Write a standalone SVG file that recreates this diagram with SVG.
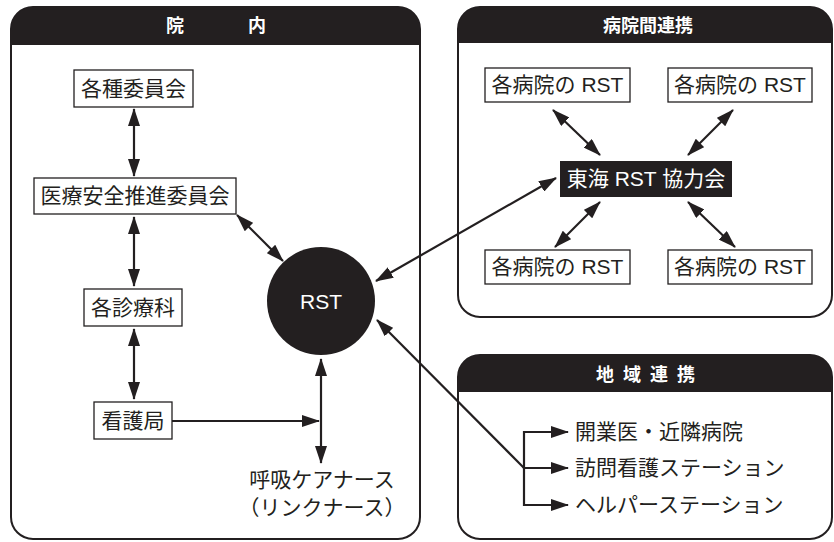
<svg xmlns="http://www.w3.org/2000/svg" width="834" height="542" viewBox="0 0 834 542">
<defs>
<marker id="ah" viewBox="0 0 18 12" markerWidth="18" markerHeight="12" refX="17" refY="6" orient="auto-start-reverse" markerUnits="userSpaceOnUse">
<path d="M0,0 L18,6 L0,12 z" fill="#231f20"/>
</marker>
<style>
.panel{fill:#fff;stroke:#231f20;stroke-width:2}
.hdr{fill:#231f20}
.htxt{fill:#fff;font-family:"Noto Sans CJK JP",sans-serif;font-weight:bold;font-size:18px;text-anchor:middle}
.box{fill:#fff;stroke:#231f20;stroke-width:1.3}
.t{fill:#231f20;font-family:"Liberation Sans","Noto Sans CJK JP",sans-serif;font-size:21px;text-anchor:middle}
.tl{fill:#231f20;font-family:"Noto Sans CJK JP",sans-serif;font-size:21px}
.w{fill:#fff}
.c line,.c path{stroke:#231f20;stroke-width:2.2;fill:none}
.bi{marker-start:url(#ah);marker-end:url(#ah)}
.one{marker-end:url(#ah)}
</style>
</defs>

<g id="panel-innai">
<rect class="panel" x="11" y="7" width="409" height="532" rx="22"/>
<path class="hdr" d="M11,45 V29 A22,22 0 0 1 33,7 H398 A22,22 0 0 1 420,29 V45 Z"/>
<text class="htxt" x="175" y="32">院</text>
<text class="htxt" x="257" y="32">内</text>
</g>

<g id="panel-byoin">
<rect class="panel" x="458" y="7" width="374" height="310" rx="22"/>
<path class="hdr" d="M458,43 V29 A22,22 0 0 1 480,7 H810 A22,22 0 0 1 832,29 V43 Z"/>
<text class="htxt" x="648" y="32" font-size="19">病院間連携</text>
</g>

<g id="panel-chiiki">
<rect class="panel" x="458" y="355" width="374" height="184" rx="22"/>
<path class="hdr" d="M458,392 V377 A22,22 0 0 1 480,355 H810 A22,22 0 0 1 832,377 V392 Z"/>
<text class="htxt" x="650" y="381" font-size="19" letter-spacing="9">地域連携</text>
</g>

<g id="n-kakushu">
<rect class="box" x="74" y="70" width="119" height="37"/>
<text class="t" x="133.5" y="96">各種委員会</text>
</g>
<g id="n-iryo">
<rect class="box" x="34" y="178" width="202" height="36"/>
<text class="t" x="135" y="203">医療安全推進委員会</text>
</g>
<g id="n-shinryo">
<rect class="box" x="84" y="289" width="98" height="37"/>
<text class="t" x="133" y="315">各診療科</text>
</g>
<g id="n-kango">
<rect class="box" x="94" y="402" width="78" height="37"/>
<text class="t" x="133" y="428">看護局</text>
</g>
<g id="n-rst">
<circle cx="321" cy="301" r="54" fill="#231f20"/>
<text class="t w" x="321" y="309" font-size="20">RST</text>
</g>
<g id="n-kokyu">
<text class="t" x="322" y="487">呼吸ケアナース</text>
<text class="t" x="322" y="515">（リンクナース）</text>
</g>

<g id="n-tokai">
<rect x="560" y="161" width="172" height="36" fill="#231f20"/>
<text class="t w" x="646" y="186">東海 RST 協力会</text>
</g>
<g id="n-h1">
<rect class="box" x="485" y="68" width="145" height="34"/>
<text class="t" x="557.5" y="92">各病院の RST</text>
</g>
<g id="n-h2">
<rect class="box" x="668" y="68" width="144" height="34"/>
<text class="t" x="740" y="92">各病院の RST</text>
</g>
<g id="n-h3">
<rect class="box" x="485" y="250" width="145" height="34"/>
<text class="t" x="557.5" y="274">各病院の RST</text>
</g>
<g id="n-h4">
<rect class="box" x="668" y="250" width="144" height="34"/>
<text class="t" x="740" y="274">各病院の RST</text>
</g>

<g id="n-chiiki-items">
<text class="tl" x="575" y="439">開業医・近隣病院</text>
<text class="tl" x="575" y="475">訪問看護ステーション</text>
<text class="tl" x="575" y="512">ヘルパーステーション</text>
</g>

<g id="connectors" class="c">
<line class="bi" x1="134" y1="109" x2="134" y2="176"/>
<line class="bi" x1="134" y1="217" x2="134" y2="286"/>
<line class="bi" x1="134" y1="329" x2="134" y2="399"/>
<line class="one" x1="172" y1="421" x2="319" y2="421"/>
<line class="bi" x1="321" y1="359" x2="321" y2="463"/>
<line class="bi" x1="237" y1="215" x2="283" y2="261"/>
<line class="bi" x1="376" y1="281" x2="556" y2="178"/>
<line class="one" x1="524" y1="468" x2="377" y2="320"/>
<line x1="524" y1="431" x2="524" y2="506"/>
<line class="one" x1="523" y1="432" x2="568" y2="432"/>
<line class="one" x1="523" y1="468" x2="568" y2="468"/>
<line class="one" x1="523" y1="505" x2="568" y2="505"/>
<line class="bi" x1="553" y1="110" x2="600" y2="155"/>
<line class="bi" x1="733" y1="110" x2="688" y2="155"/>
<line class="bi" x1="600" y1="202" x2="555" y2="247"/>
<line class="bi" x1="688" y1="202" x2="735" y2="247"/>
</g>
</svg>
